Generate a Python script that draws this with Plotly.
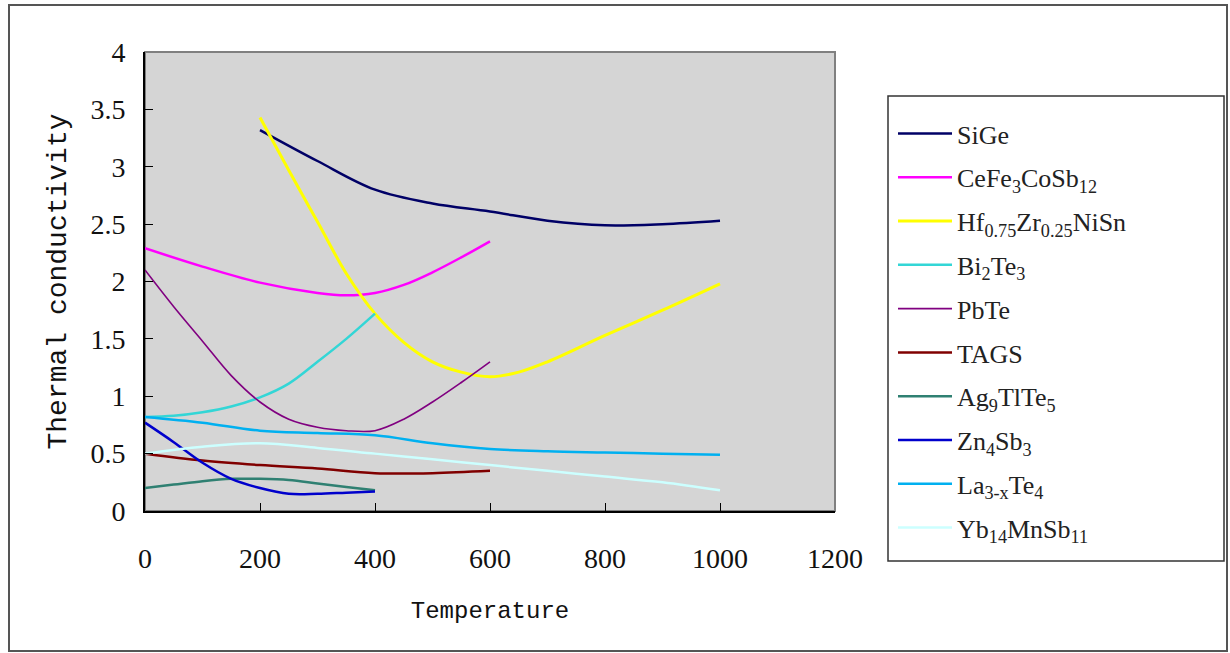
import plotly.graph_objects as go

# ---- data ----
sige_T = [200, 300, 400, 500, 600, 700, 800, 900, 1000]
sige_k = [3.32, 3.05, 2.80, 2.68, 2.61, 2.53, 2.49, 2.50, 2.53]

ce_T = [0, 100, 200, 300, 350, 400, 450, 500, 550, 600]
ce_k = [2.29, 2.13, 1.99, 1.90, 1.88, 1.90, 1.97, 2.08, 2.21, 2.35]

hf_T = [200, 250, 300, 350, 400, 450, 500, 550, 600, 650, 700, 800, 900, 1000]
hf_k = [3.43, 2.97, 2.52, 2.07, 1.72, 1.47, 1.30, 1.21, 1.17, 1.21, 1.30, 1.53, 1.75, 1.98]

bi_T = [0, 50, 100, 150, 200, 250, 300, 350, 400]
bi_k = [0.82, 0.83, 0.86, 0.91, 0.99, 1.11, 1.30, 1.50, 1.72]

pb_T = [0, 50, 100, 150, 200, 250, 300, 350, 400, 450, 500, 550, 600]
pb_k = [2.10, 1.78, 1.48, 1.18, 0.95, 0.80, 0.73, 0.70, 0.70, 0.80, 0.95, 1.12, 1.30]

tags_T = [0, 100, 200, 300, 400, 500, 600]
tags_k = [0.50, 0.44, 0.40, 0.37, 0.33, 0.33, 0.35]

ag_T = [0, 50, 100, 150, 200, 250, 300, 350, 400]
ag_k = [0.20, 0.23, 0.26, 0.28, 0.28, 0.27, 0.24, 0.21, 0.18]

zn_T = [0, 50, 100, 150, 200, 250, 300, 350, 400]
zn_k = [0.77, 0.60, 0.42, 0.28, 0.20, 0.15, 0.15, 0.16, 0.17]

la_T = [0, 100, 200, 300, 400, 500, 600, 700, 800, 900, 1000]
la_k = [0.82, 0.77, 0.70, 0.68, 0.66, 0.59, 0.54, 0.52, 0.51, 0.50, 0.49]

yb_T = [0, 100, 200, 300, 400, 500, 600, 700, 800, 900, 1000]
yb_k = [0.50, 0.56, 0.59, 0.55, 0.50, 0.45, 0.40, 0.35, 0.30, 0.25, 0.18]

names = ["SiGe", "CeFe<sub>3</sub>CoSb<sub>12</sub>", "Hf<sub>0.75</sub>Zr<sub>0.25</sub>NiSn",
         "Bi<sub>2</sub>Te<sub>3</sub>", "PbTe", "TAGS", "Ag<sub>9</sub>TlTe<sub>5</sub>",
         "Zn<sub>4</sub>Sb<sub>3</sub>", "La<sub>3-x</sub>Te<sub>4</sub>", "Yb<sub>14</sub>MnSb<sub>11</sub>"]
series = [(sige_T, sige_k), (ce_T, ce_k), (hf_T, hf_k), (bi_T, bi_k), (pb_T, pb_k),
          (tags_T, tags_k), (ag_T, ag_k), (zn_T, zn_k), (la_T, la_k), (yb_T, yb_k)]
colors = ["#000066", "#FF00FF", "#FFFF00", "#33D6D6", "#800080",
          "#800000", "#2F8072", "#0000CC", "#00B0F0", "#CCFFFF"]
widths = [2.5, 2.5, 3, 2.5, 1.6, 2.5, 2.5, 2.5, 2.5, 2.5]

x_ticks = [0, 200, 400, 600, 800, 1000, 1200]
y_ticks = [0, 0.5, 1, 1.5, 2, 2.5, 3, 3.5, 4]

fig = go.Figure()
for i, ((t, k), n, c, w) in enumerate(zip(series, names, colors, widths)):
    fig.add_trace(go.Scatter(x=t, y=k, mode="lines", name=n, legendgroup=str(i),
                             line=dict(color=c, width=w, shape="spline")))

W, H = 1230, 653
L, R, T, B = 145, 835, 52, 511
pw, ph = R - L, B - T

def px(xp):
    return (xp - L) / pw

def py(yp):
    return (B - yp) / ph

fig.update_layout(
    width=W, height=H,
    margin=dict(l=L, r=W - R, t=T, b=H - B),
    paper_bgcolor="white",
    plot_bgcolor="#D5D5D5",
    showlegend=True,
    legend=dict(x=px(893), y=py(110), xanchor="left", yanchor="top",
                font=dict(family="Liberation Serif", size=26, color="#222"),
                bgcolor="rgba(255,255,255,0)", borderwidth=0,
                itemwidth=54, tracegroupgap=7),
    shapes=[
        dict(type="rect", xref="paper", yref="paper", x0=0, x1=1, y0=0, y1=1,
             line=dict(color="#808080", width=2), layer="below"),
        dict(type="rect", xref="paper", yref="paper", x0=px(888), x1=px(1224),
             y0=py(561), y1=py(96), line=dict(color="#333", width=1.5)),
        dict(type="rect", xref="paper", yref="paper", x0=px(9), x1=px(1227),
             y0=py(651), y1=py(5), line=dict(color="#555", width=2)),
    ],
)
fig.update_xaxes(range=[0, 1200], tickvals=x_ticks, ticks="inside", ticklen=8,
                 tickcolor="black", showline=True, linecolor="black", linewidth=2,
                 showgrid=False, zeroline=False, ticklabelstandoff=21,
                 tickfont=dict(family="Liberation Serif", size=28, color="#111"),
                 title=dict(text="Temperature", standoff=29,
                            font=dict(family="Liberation Mono", size=24, color="#111")))
fig.update_yaxes(range=[0, 4], tickvals=y_ticks, ticks="inside", ticklen=8,
                 tickcolor="black", showline=True, linecolor="black", linewidth=2,
                 showgrid=False, zeroline=False, ticklabelstandoff=12,
                 tickfont=dict(family="Liberation Serif", size=28, color="#111"),
                 title=dict(text="Thermal conductivity", standoff=16,
                            font=dict(family="Liberation Mono", size=28, color="#111")))

fig.write_html("out.html", config={"displayModeBar": False},
               post_script="document.body.style.margin='0';document.body.style.overflow='hidden';")
